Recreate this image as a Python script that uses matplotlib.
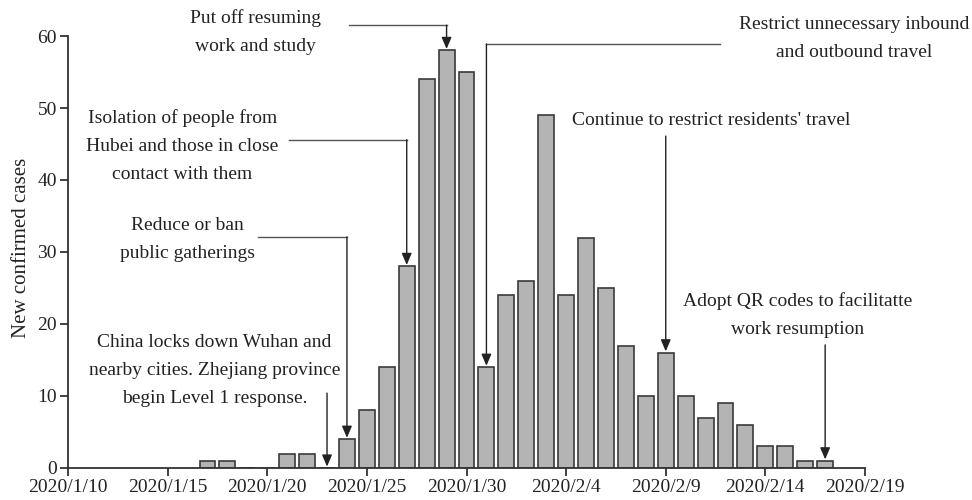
import datetime as dt
import matplotlib
matplotlib.use("Agg")
import matplotlib.pyplot as plt
import matplotlib.dates as mdates

plt.rcParams["font.family"] = ["Liberation Serif", "DejaVu Serif"]

# ── data ─────────────────────────────────────────────────────
dates = ["2020-01-17", "2020-01-18", "2020-01-19", "2020-01-20", "2020-01-21",
         "2020-01-22", "2020-01-23", "2020-01-24", "2020-01-25", "2020-01-26",
         "2020-01-27", "2020-01-28", "2020-01-29", "2020-01-30", "2020-01-31",
         "2020-02-01", "2020-02-02", "2020-02-03", "2020-02-04", "2020-02-05",
         "2020-02-06", "2020-02-07", "2020-02-08", "2020-02-09", "2020-02-10",
         "2020-02-11", "2020-02-12", "2020-02-13", "2020-02-14", "2020-02-15",
         "2020-02-16", "2020-02-17"]
cases = [1, 1, 0, 0, 2, 2, 0, 4, 8, 14, 28, 54, 58, 55, 14, 24, 26, 49, 24, 32,
         25, 17, 10, 16, 10, 7, 9, 6, 3, 3, 1, 1]

tick_dates = ["2020-01-10", "2020-01-15", "2020-01-20", "2020-01-25", "2020-01-30",
              "2020-02-04", "2020-02-09", "2020-02-14", "2020-02-19"]
tick_labels = ["2020/1/10", "2020/1/15", "2020/1/20", "2020/1/25", "2020/1/30",
               "2020/2/4", "2020/2/9", "2020/2/14", "2020/2/19"]

event_texts = [
    "China locks down Wuhan and\nnearby cities. Zhejiang province\nbegin Level 1 response.",
    "Reduce or ban\npublic gatherings",
    "Isolation of people from\nHubei and those in close\ncontact with them",
    "Put off resuming\nwork and study",
    "Restrict unnecessary inbound\nand outbound travel",
    "Continue to restrict residents' travel",
    "Adopt QR codes to facilitatte\nwork resumption",
]
event_dates = ["2020-01-23", "2020-01-24", "2020-01-27", "2020-01-29",
               "2020-01-31", "2020-02-09", "2020-02-17"]

def d(s):
    return mdates.date2num(dt.datetime.strptime(s, "%Y-%m-%d"))

x = [d(s) for s in dates]
x0 = d("2020-01-10")
val = dict(zip(dates, cases))

# ── figure ───────────────────────────────────────────────────
fig = plt.figure(figsize=(9.72, 5), dpi=100)
ax = fig.add_axes([68/972, 32/500, (865-68)/972, (468-36)/500])

ax.bar(x, cases, width=0.8, color="#b4b4b4", edgecolor="#3a3a3a", linewidth=1.2, zorder=2)

ax.set_xlim(d("2020-01-10"), d("2020-02-19"))
ax.set_ylim(0, 60)
ax.set_xticks([d(s) for s in tick_dates])
ax.set_xticklabels(tick_labels)
ax.set_yticks(range(0, 61, 10))
for s in ["top", "right"]:
    ax.spines[s].set_visible(False)
for s in ["left", "bottom"]:
    ax.spines[s].set_color("#333333")
    ax.spines[s].set_linewidth(1.3)
ax.tick_params(axis="both", direction="out", length=6, width=1.3, color="#333333",
               labelsize=14, labelcolor="#222222", pad=2)
ax.set_ylabel("New confirmed cases", fontsize=15, labelpad=3, color="#222222")
ax.yaxis.set_label_coords(-0.047, 0.51)

# ── annotations ──────────────────────────────────────────────
# (text x in days from 1/10, text y, path of the leader line before the final drop)
layout = [
    (7.35, 13.6, [(13, 10.4)]),
    (6.0, 31.7, [(9.55, 32.1), (14, 32.1)]),
    (5.75, 44.7, [(11.1, 45.6), (17, 45.6)]),
    (9.4, 60.5, [(14.1, 61.5), (19, 61.5)]),
    (39.45, 59.6, [(32.7, 58.9), (21, 58.9)]),
    (32.3, 48.3, [(30, 46.1)]),
    (36.6, 21.3, [(37.85, 17.1)]),
]

tfs = 14
for txt, ds, (tx, ty, path) in zip(event_texts, event_dates, layout):
    ax.text(x0 + tx, ty, txt, ha="center", va="center", fontsize=tfs,
            linespacing=1.85, color="#222222", clip_on=False)
    xe = d(ds)
    top = val.get(ds, 0)
    pts = [(x0 + px, py) for px, py in path]
    if len(pts) > 1:
        ax.plot([p[0] for p in pts], [p[1] for p in pts], color="#555555",
                lw=1.0, clip_on=False, zorder=3)
    sx, sy = pts[-1][0], pts[-1][1]
    ax.annotate("", xy=(xe, top + 0.2), xytext=(xe, sy),
                arrowprops=dict(arrowstyle="-|>,head_length=0.7,head_width=0.3",
                                color="#222222", lw=1.0, shrinkA=0, shrinkB=0),
                annotation_clip=False, zorder=3)

fig.savefig("out.png", dpi=100)
